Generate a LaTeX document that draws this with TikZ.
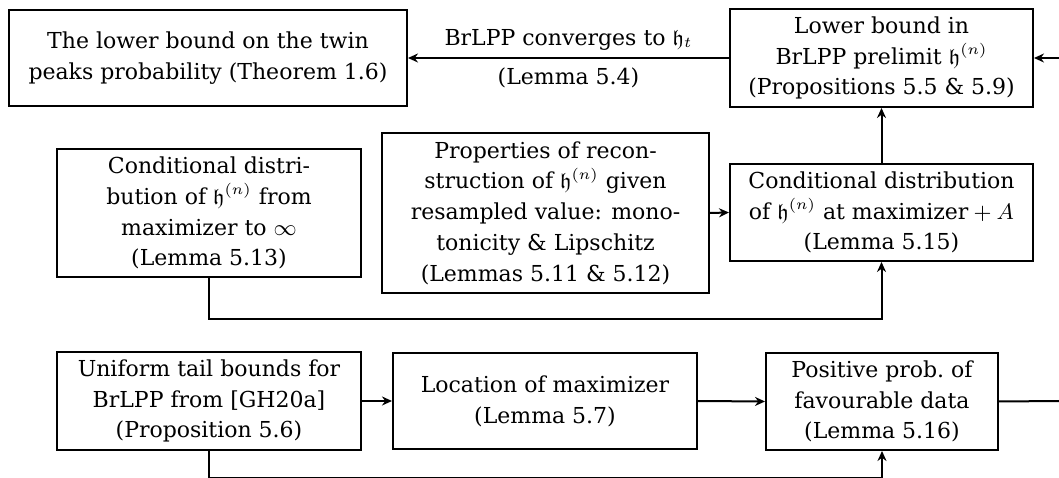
\documentclass[tikz,border=0pt]{standalone}
\usepackage{amssymb}
\usepackage{fontspec}
\setmainfont{DejaVu Serif}
\usetikzlibrary{arrows.meta}
\newcommand{\hh}{\mathfrak{h}}
\begin{document}
\begin{tikzpicture}[x=0.4pt,y=-0.4pt,
  every node/.style={font=\fontsize{8.8}{12.3}\selectfont},
  box/.style={draw,line width=0.8pt,align=center,inner sep=0pt},
  conn/.style={line width=0.8pt,-{Stealth[length=4pt,width=3.6pt]}},
  plain/.style={line width=0.8pt}]
\useasboundingbox (0,0) rectangle (1059,478);
\node[box,minimum width=159.2pt,minimum height=38.4pt] (A) at (208,58)
  {The lower bound on the twin\\peaks probability (Theorem 1.6)};
\node[box,minimum width=121.2pt,minimum height=39.2pt] (B) at (881.5,58)
  {Lower bound in\\BrLPP prelimit $\hh^{(n)}$\\(Propositions 5.5 \& 5.9)};
\node[box,minimum width=121.6pt,minimum height=51.2pt] (C) at (209,213)
  {Conditional distri-\\bution of $\hh^{(n)}$ from\\maximizer to $\infty$\\(Lemma 5.13)};
\node[box,minimum width=130.8pt,minimum height=64pt] (D) at (545.5,213)
  {Properties of recon-\\struction of $\hh^{(n)}$ given\\resampled value: mono-\\tonicity \& Lipschitz\\(Lemmas 5.11 \& 5.12)};
\node[box,minimum width=121.2pt,minimum height=38.8pt] (E) at (881.5,212.5)
  {Conditional distribution\\of $\hh^{(n)}$ at maximizer${}+A$\\(Lemma 5.15)};
\node[box,minimum width=121.6pt,minimum height=39.2pt] (F) at (209,401)
  {Uniform tail bounds for\\BrLPP from [GH20a]\\(Proposition 5.6)};
\node[box,minimum width=121.6pt,minimum height=38.4pt] (G) at (545,401)
  {Location of maximizer\\(Lemma 5.7)};
\node[box,minimum width=92.8pt,minimum height=38.8pt] (H) at (882,401.5)
  {Positive prob.\ of\\favourable data\\(Lemma 5.16)};
\coordinate (Rin) at (1059,58);
\coordinate (Rout) at (1059,401);
\draw[conn] (Rin) -- (B.east);
\draw[conn] (B.west) -- node[above=-0.5pt] {BrLPP converges to $\hh_t$}
  node[below=0.3pt] {(Lemma 5.4)} (A.east);
\draw[conn] (E.north) -- (B.south);
\draw[conn] (D.east) -- (E.west);
\draw[conn] (C.south) -- ++(0,41) -| (E.south);
\draw[conn] (F.east) -- (G.west);
\draw[conn] (G.east) -- (H.west);
\draw[plain] (H.east) -- (Rout);
\draw[conn] (F.south) -- ++(0,26.5) -| (H.south);
\end{tikzpicture}
\end{document}
